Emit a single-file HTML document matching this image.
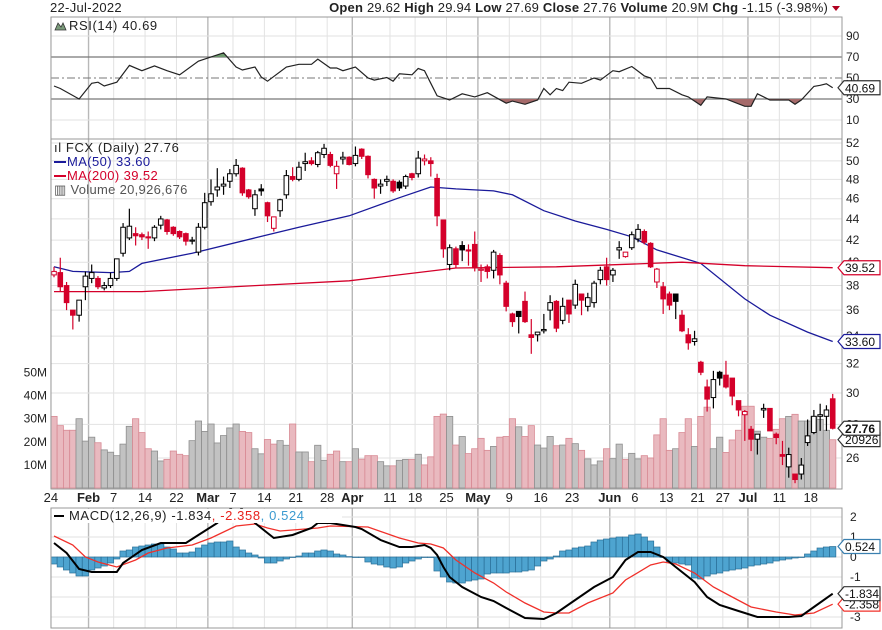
<!DOCTYPE html>
<html><head><meta charset="utf-8"><style>
html,body{margin:0;padding:0;background:#fff;}
svg{display:block;font-family:"Liberation Sans",Arial,sans-serif;}
</style></head><body>
<svg id="chart" width="882" height="630" viewBox="0 0 882 630" xmlns="http://www.w3.org/2000/svg">
<g id="grid"></g>
<g id="vol"></g>
<g id="lines"></g>
<g id="candles"></g>
<g id="frames"></g>
<g id="labels"></g>
<text x="50" y="12" font-size="13" letter-spacing="0.3" fill="#222">22-Jul-2022</text>
<text x="828" y="12" font-size="13" letter-spacing="0.2" text-anchor="end" fill="#222"><tspan font-weight="bold">Open</tspan> 29.62  <tspan font-weight="bold">High</tspan> 29.94  <tspan font-weight="bold">Low</tspan> 27.69  <tspan font-weight="bold">Close</tspan> 27.76  <tspan font-weight="bold">Volume</tspan> 20.9M  <tspan font-weight="bold">Chg</tspan> -1.15 (-3.98%)</text>
<polygon points="832,6 840,6 836,11" fill="#b00020"/>
<g>
<polygon points="55,30 58,23 61,27 63,23 66,30" fill="#7a9a7a" stroke="#333" stroke-width="0.8"/>
<text x="69" y="30" font-size="13" letter-spacing="0.6" fill="#222">RSI(14) 40.69</text></g>
<g>
<text x="54" y="152" font-size="13" letter-spacing="0.6" fill="#222">ıl FCX (Daily) 27.76</text>
<line x1="54" y1="162" x2="66" y2="162" stroke="#1a1a9a" stroke-width="2"/>
<text x="67" y="166" font-size="13" letter-spacing="0.4" fill="#1a1a9a">MA(50) 33.60</text>
<line x1="54" y1="176" x2="66" y2="176" stroke="#d4002a" stroke-width="2"/>
<text x="67" y="180" font-size="13" letter-spacing="0.4" fill="#d4002a">MA(200) 39.52</text>
<text x="54" y="194" font-size="13" letter-spacing="0.3" fill="#555">▥ Volume 20,926,676</text></g>
<g>
<rect x="52" y="509" width="290" height="14" fill="#fff"/>
<line x1="54" y1="516" x2="64" y2="516" stroke="#000" stroke-width="2"/>
<text x="69" y="520" font-size="13" letter-spacing="0.6" fill="#222">MACD(12,26,9) -1.834<tspan fill="#e8231d">, -2.358</tspan><tspan fill="#3a9ad0">, 0.524</tspan></text></g>
<g id="tags"></g>
</svg>
<script>
// ---- data ----
const open  = [38.9,39.1,38.0,36.0,35.6,37.9,38.6,38.6,37.8,38.0,38.6,40.8,42.2,42.6,42.5,42.3,42.2,43.4,43.9,43.2,42.8,42.6,41.9,40.9,43.2,45.7,46.9,47.3,47.8,48.6,49.2,46.9,45.0,47.0,45.6,43.1,44.8,46.4,48.3,48.0,49.7,50.0,49.6,50.7,50.7,48.6,50.2,50.4,49.7,51.3,50.5,48.0,47.3,47.8,47.8,47.7,47.3,48.6,48.6,50.0,50.0,48.1,43.9,39.8,41.2,41.5,41.1,41.6,39.3,39.6,39.3,40.6,38.2,35.7,35.9,36.7,34.1,34.1,34.4,36.0,36.7,35.2,36.8,36.4,37.3,36.3,36.6,38.5,39.6,38.9,41.1,40.5,41.3,42.1,42.8,41.7,38.3,37.9,37.3,37.3,35.6,34.1,33.6,32.1,30.4,29.7,31.4,31.2,31.0,29.5,28.6,27.7,27.1,28.9,29.0,27.4,26.2,25.5,25.1,25.1,26.9,27.5,28.5,28.5,29.62];
const high  = [39.6,40.4,38.3,36.0,36.8,39.2,39.8,38.8,38.3,39.1,40.3,43.6,45.0,43.2,42.7,42.8,43.4,44.3,44.0,43.3,42.9,42.7,42.3,43.6,46.6,48.0,49.2,48.3,49.1,50.2,49.3,47.0,46.9,47.5,45.7,44.2,46.0,49.0,49.3,49.9,50.9,50.4,51.1,51.9,51.0,50.0,51.0,50.5,51.6,51.4,50.6,48.1,48.0,48.4,48.0,47.9,48.5,48.7,51.1,50.7,50.4,48.6,43.9,41.6,41.4,41.9,41.6,42.8,39.8,39.8,41.1,40.8,38.4,35.8,35.9,37.5,35.3,34.3,35.7,37.2,36.8,37.0,36.8,38.5,37.3,37.4,38.4,39.6,40.4,39.5,41.9,40.9,42.8,43.5,43.0,41.8,39.5,38.3,37.5,37.3,36.0,34.6,34.4,32.2,30.9,31.5,31.5,32.2,31.0,29.5,28.9,27.9,27.4,29.3,29.0,27.5,27.0,26.6,25.1,26.0,28.3,28.9,29.3,29.2,29.94];
const low   = [38.7,37.5,36.0,34.5,35.1,36.8,38.2,37.7,37.6,37.8,38.4,40.5,42.0,41.5,42.0,41.2,41.9,43.0,42.5,42.4,42.1,41.5,41.6,40.6,43.0,45.3,46.2,46.4,47.1,48.3,46.3,46.0,44.3,46.3,43.7,42.8,44.2,46.0,47.8,47.8,48.9,49.5,49.3,50.3,49.3,47.0,49.6,49.5,49.4,50.2,48.1,46.0,46.5,47.3,46.6,46.8,47.0,47.9,48.2,49.5,48.3,43.3,40.4,39.3,39.5,40.1,39.7,39.2,38.3,38.6,38.6,38.1,35.9,34.7,34.2,35.0,32.7,33.6,34.2,35.2,34.3,34.9,35.0,36.1,35.6,35.9,36.2,38.1,38.0,38.3,40.3,40.4,41.1,41.8,41.6,39.5,37.8,35.7,36.0,35.3,34.3,33.0,33.3,31.2,28.8,29.0,30.5,30.3,29.2,28.5,27.0,26.4,26.2,28.4,27.6,26.8,25.6,24.9,24.6,24.8,26.7,27.4,27.6,27.6,27.69];
const close = [39.2,37.9,36.6,35.6,36.8,38.8,39.1,37.9,38.0,38.6,40.3,43.2,43.3,42.4,42.3,42.2,43.2,44.0,42.8,42.6,42.3,41.9,42.0,43.2,45.6,46.5,47.2,47.5,48.6,49.5,46.6,46.2,46.4,46.8,44.3,44.2,45.9,48.4,48.0,49.3,49.9,49.7,50.9,51.4,49.5,49.4,50.4,49.6,50.6,50.5,48.5,47.1,47.5,48.0,46.8,47.1,48.3,48.2,50.3,50.2,49.7,44.3,41.2,41.3,39.8,41.1,41.0,39.5,39.4,39.2,40.9,38.9,36.3,35.1,35.5,35.1,33.9,34.3,34.5,36.6,34.6,36.3,35.7,38.1,36.8,37.0,38.2,39.3,38.5,39.3,41.3,40.9,42.5,43.0,41.8,39.6,39.4,36.9,36.4,36.7,34.4,33.5,33.8,31.4,29.6,30.9,31.0,30.4,29.8,28.9,28.8,27.1,27.4,29.0,27.6,27.2,26.1,26.2,24.8,25.6,27.3,28.5,28.6,28.9,27.76];
const volumeM = [31,27,25,25,30,20.3,22,19.6,16.5,15.5,14,19,26.7,30,24,17,16,11.7,12.4,16,14.6,14,20.5,29,24.5,27.7,19.5,22.7,26,27.7,24.5,24,17,14.8,21,19,20.5,18.5,27.7,15.6,15.6,11.4,18.5,12,14.6,16,11.4,11.4,17,12.5,14,14,11.4,9.6,9.6,12,12.4,12.4,14.6,10,13.5,31,32,31,18.6,22.3,14.9,17,21.5,16.3,18,22,22.3,30,26.5,22.3,27,18.6,17.3,22.3,18.3,18.6,21.5,19.2,16.3,12.6,10,11.7,17,12.7,19,12.4,15,12.6,14,13,23,30,16.3,17,24,30,18,31,35,17,22,15.4,20.8,25,35.4,35.4,24.6,22,21.5,25.4,30,31,31.9,29,29,31,29.7,25,20.9];
const ma50Idx = [0,3,9,12,14,22,32,39,47,55,60,64,70,73,78,83,88,92,96,103,110,114,120,124];
const ma50Val = [39.6,39.2,39.1,39.2,39.9,40.8,42.2,43.2,44.3,46.1,47.2,47.0,46.8,46.4,44.8,43.8,43.0,42.3,41.1,39.9,36.9,35.6,34.3,33.6];
const ma200Idx = [0,14,32,47,64,80,95,100,110,124];
const ma200Val = [37.5,37.5,38.0,38.4,39.5,39.6,39.9,40.0,39.7,39.52];
const rsiIdx = [0,1,4,6,7,8,10,12,14,16,18,20,23,24,27,29,30,32,33,34,37,39,41,42,44,45,46,48,50,51,53,54,55,57,58,59,60,61,63,65,67,69,72,73,75,77,78,79,80,81,82,84,86,87,89,90,92,94,95,96,98,100,101,103,104,107,110,111,112,114,117,118,119,121,122,123,124];
const rsiVal = [42.4,40,30,45,46,42.4,46,62,57,61.5,57,53,66,68,74,60.5,57.6,60.5,51,47,60.5,63,63,68,59.5,59.5,57,60.5,50,48,50.5,47,54,53,59,57,45,33,29,35,32,36,26,28,25,29,40,34,40,38,46,45,50,48,57,56,61,52,50,40,40,34,32,24,32,30,23,23,35,29,29,25,29,42,43,44.5,40.69];
const macdIdx = [0,2,4,6,10,11,14,17,21,23,26,29,32,34,35,38,41,42,44,48,49,52,55,57,59,60,61,62,63,65,68,70,72,75,78,80,83,86,89,91,93,95,97,99,102,104,106,109,112,117,119,121,124];
const macdVal = [0.7,0.2,-0.6,-0.75,-0.75,-0.3,0.35,0.7,0.7,1.1,1.7,2.7,1.7,1.2,0.95,1.1,1.45,1.7,1.7,1.5,1.4,0.85,0.5,0.5,0.6,0.45,0.1,-0.5,-1.0,-1.5,-2.0,-2.2,-2.55,-3.05,-3.1,-2.8,-2.15,-1.5,-1.0,-0.15,0.25,0.25,0,-0.5,-1.25,-2.0,-2.4,-2.7,-3.0,-3.0,-2.95,-2.5,-1.834];
const signalIdx = [0,3,5,7,10,13,15,18,22,25,29,32,34,36,42,44,50,55,58,60,62,64,67,70,72,75,78,80,82,85,89,91,95,97,99,102,105,108,111,115,118,121,124];
const signalVal = [1.05,0.6,0,-0.25,-0.5,-0.15,0.2,0.45,0.6,0.95,1.55,1.65,1.45,1.3,1.45,1.55,1.5,0.95,0.7,0.65,0.45,-0.15,-0.8,-1.3,-1.75,-2.3,-2.75,-2.8,-2.8,-2.3,-1.8,-1.15,-0.4,-0.25,-0.35,-0.8,-1.5,-2.0,-2.5,-2.75,-2.9,-2.8,-2.358];
const histVal = [-0.35,-0.5,-0.65,-0.8,-0.95,-0.95,-0.65,-0.55,-0.45,-0.3,-0.1,0.3,0.35,0.5,0.55,0.6,0.65,0.65,0.5,0.4,0.2,0.2,0.25,0.45,0.6,0.7,0.75,0.75,0.8,0.5,0.35,0.2,0.1,-0.05,-0.3,-0.3,-0.2,-0.1,0,0.05,0.2,0.2,0.3,0.35,0.3,0.15,0.1,0.02,0,0,-0.25,-0.35,-0.4,-0.5,-0.55,-0.5,-0.3,-0.2,-0.1,0,0,-0.7,-1.0,-1.25,-1.3,-1.3,-1.2,-1.15,-1.1,-0.85,-0.8,-0.8,-0.8,-0.75,-0.75,-0.7,-0.65,-0.45,-0.2,-0.1,0.05,0.3,0.35,0.45,0.5,0.55,0.75,0.85,0.9,0.95,1.0,1.0,1.1,1.15,1.0,0.8,0.5,0.0,-0.25,-0.3,-0.35,-0.4,-1.05,-1.1,-0.95,-0.85,-0.8,-0.7,-0.65,-0.6,-0.55,-0.45,-0.4,-0.35,-0.3,-0.2,-0.15,-0.1,-0.05,0,0.15,0.3,0.45,0.5,0.524];
const priceTicks = [52,50,48,46,44,42,40,38,36,34,32,30,28,26];
const volTicks = [10,20,30,40,50];
const rsiTicks = [90,70,50,30,10];
const macdTicks = [2,1,0,-1,-2,-3];
const xLabelIdx = [0,6,10,15,20,25,29,34,39,44,48,54,58,63,68,73,78,83,89,93,98,103,107,111,116,121];
const xLabelText = ["24","Feb","7","14","22","Mar","7","14","21","28","Apr","11","18","25","May","9","16","23","Jun","6","13","21","27","Jul","11","18"];
const monthLabels = ["Feb","Mar","Apr","May","Jun","Jul"];

// ---- scales ----
const NS = "http://www.w3.org/2000/svg";
const L = 51, R = 842;
const X = i => 54 + i * 6.28;
const Yp = p => 143 + Math.log(52 / p) * 454.5;
const Yv = v => 488 - v * 2.31;
const Yr = v => 78 - (v - 50) * 1.05;
const Ym = v => 557 - v * 20;
const RED = "#d4002a";
function mk(tag, attrs, parent) {
  const e = document.createElementNS(NS, tag);
  for (const k in attrs) e.setAttribute(k, attrs[k]);
  parent.appendChild(e); return e;
}
const grid = document.getElementById("grid");
const vol = document.getElementById("vol");
const lines = document.getElementById("lines");
const candles = document.getElementById("candles");
const frames = document.getElementById("frames");
const labels = document.getElementById("labels");
const tags = document.getElementById("tags");

xLabelIdx.forEach((idx, k) => {
  const gx = X(idx) - 3.14;
  const isMonth = monthLabels.includes(xLabelText[k]);
  [[17, 139], [139, 489], [508, 628]].forEach(([a, b]) => {
    const ln = mk("line", {x1: gx, x2: gx, y1: a, y2: b, stroke: isMonth ? "#b8b8b8" : "#e2e2e2", "stroke-width": isMonth ? 1.4 : 1}, grid);
    
    
  });
  const t = mk("text", {x: gx, y: 502, "font-size": 13, "text-anchor": "middle", fill: "#222", "font-weight": isMonth ? "bold" : "normal"}, labels);
  t.textContent = xLabelText[k];
  
  
});
priceTicks.forEach(p => {
  const y = Yp(p);
  const ln = mk("line", {x1: L, x2: R, y1: y, y2: y, stroke: "#e2e2e2"}, grid);
  
  
  const t = mk("text", {x: 846, y: y + 4, "font-size": 12, fill: "#222"}, labels);
  t.textContent = p;
  
  
});
volTicks.forEach(v => {
  const y = Yv(v);
  const t = mk("text", {x: 47, y: y + 4, "font-size": 12, "text-anchor": "end", fill: "#222"}, labels);
  t.textContent = v + "M";
  
  
});
rsiTicks.forEach(v => {
  const y = Yr(v);
  const strong = (v === 70 || v === 30);
  const ln = mk("line", {x1: L, x2: R, y1: y, y2: y, stroke: strong ? "#777" : (v === 50 ? "#777" : "#e2e2e2"), "stroke-width": strong ? 1.3 : 1}, grid);
  if (v === 50) ln.setAttribute("stroke-dasharray", "8,3,2,3");
  
  
  const t = mk("text", {x: 846, y: y + 4, "font-size": 12, fill: "#222"}, labels);
  t.textContent = v;
  
  
});
macdTicks.forEach(v => {
  const y = Ym(v);
  const ln = mk("line", {x1: L, x2: R, y1: y, y2: y, stroke: "#e2e2e2"}, grid);
  
  
  const t = mk("text", {x: 850, y: y + 4, "font-size": 12, fill: "#222"}, labels);
  t.textContent = v;
  
  
});

volumeM.forEach((v, i) => {
  const prev = i ? close[i - 1] : 39.9;
  const down = close[i] < prev;
  const r = mk("rect", {x: X(i) - 3.14, y: Yv(v), width: 6.28, height: 488 - Yv(v), fill: down ? "#e9b9bf" : "#c2c2c2", stroke: down ? "#d88a94" : "#8e8e8e", "stroke-width": 0.8}, vol);
  
  
});

function pts(idx, val, fy) { return idx.map((k, j) => X(k).toFixed(1) + "," + fy(val[j]).toFixed(1)); }
const clipA = mk("clipPath", {id: "above70"}, lines); mk("rect", {x: L, y: 17, width: R - L, height: Yr(70) - 17}, clipA);
const clipB = mk("clipPath", {id: "below30"}, lines); mk("rect", {x: L, y: Yr(30), width: R - L, height: 139 - Yr(30)}, clipB);
const rp = pts(rsiIdx, rsiVal, Yr);
const fa = mk("polygon", {points: rp.join(" ") + ` ${X(124)},${Yr(70)} ${X(0)},${Yr(70)}`, fill: "#6d9a6d", "clip-path": "url(#above70)"}, lines);


const fb = mk("polygon", {points: rp.join(" ") + ` ${X(124)},${Yr(30)} ${X(0)},${Yr(30)}`, fill: "#a56a6a", "clip-path": "url(#below30)"}, lines);


const rl = mk("polyline", {points: rp.join(" "), fill: "none", stroke: "#222", "stroke-width": 1.2}, lines);



const m50 = mk("polyline", {points: pts(ma50Idx, ma50Val, Yp).join(" "), fill: "none", stroke: "#1a1a9a", "stroke-width": 1.3}, lines);


const m200 = mk("polyline", {points: pts(ma200Idx, ma200Val, Yp).join(" "), fill: "none", stroke: RED, "stroke-width": 1.3}, lines);



const clipM = mk("clipPath", {id: "macdclip"}, lines); mk("rect", {x: L, y: 508, width: R - L, height: 120}, clipM);
const hg = mk("g", {"clip-path": "url(#macdclip)"}, lines);
histVal.forEach((h, i) => {
  const y0 = Ym(0), y1 = Ym(h);
  const r = mk("rect", {x: X(i) - 3.14, y: Math.min(y0, y1), width: 6.28, height: Math.max(0.5, Math.abs(y1 - y0)), fill: "#4ea4d0", stroke: "#2a6f98", "stroke-width": 0.7}, hg);
  
  
});
const sl = mk("polyline", {points: pts(signalIdx, signalVal, Ym).join(" "), fill: "none", stroke: "#f0302a", "stroke-width": 1.3}, hg);


const ml = mk("polyline", {points: pts(macdIdx, macdVal, Ym).join(" "), fill: "none", stroke: "#000", "stroke-width": 2}, hg);



close.forEach((c, i) => {
  const o = open[i], prev = i ? close[i - 1] : 39.9;
  const col = c < prev ? RED : "#000";
  const hollow = c >= o;
  const x = X(i);
  const w = mk("line", {x1: x, x2: x, y1: Yp(high[i]), y2: Yp(low[i]), stroke: col, "stroke-width": 1.2}, candles);
  
  
  const top = Yp(Math.max(o, c)), bot = Yp(Math.min(o, c));
  const b = mk("rect", {x: x - 2.3, y: top, width: 4.6, height: Math.max(1, bot - top), fill: hollow ? "#fff" : col, stroke: col, "stroke-width": 1}, candles);
  
  
});

[[17, 139], [139, 489], [508, 628]].forEach(([a, b]) => {
  const r = mk("rect", {x: L, y: a, width: R - L, height: b - a, fill: "none", stroke: "#999", "stroke-width": 1}, frames);
  
  
});

function tag(y, txt, col, bold) {
  const g = mk("g", {}, tags);
  
  
  mk("polygon", {points: `838,${y} 844,${y - 7} 880,${y - 7} 880,${y + 7} 844,${y + 7}`, fill: "#fff", stroke: col, "stroke-width": 1.2}, g);
  const t = mk("text", {x: 845, y: y + 4.5, "font-size": 12, fill: "#111", "font-weight": bold ? "bold" : "normal"}, g);
  t.textContent = txt;
}
tag(Yr(40.69), "40.69", "#333");
tag(Yp(39.52), "39.52", RED);
tag(Yp(33.60), "33.60", "#1a1a9a");
tag(Yv(20.93), "20926", "#333");
tag(Yp(27.76), "27.76", "#333", true);
tag(Ym(0.524), "0.524", "#3a80b0");
tag(Ym(-2.358), "-2.358", "#f0302a");
tag(Ym(-1.834), "-1.834", "#333");
</script>
</body></html>
